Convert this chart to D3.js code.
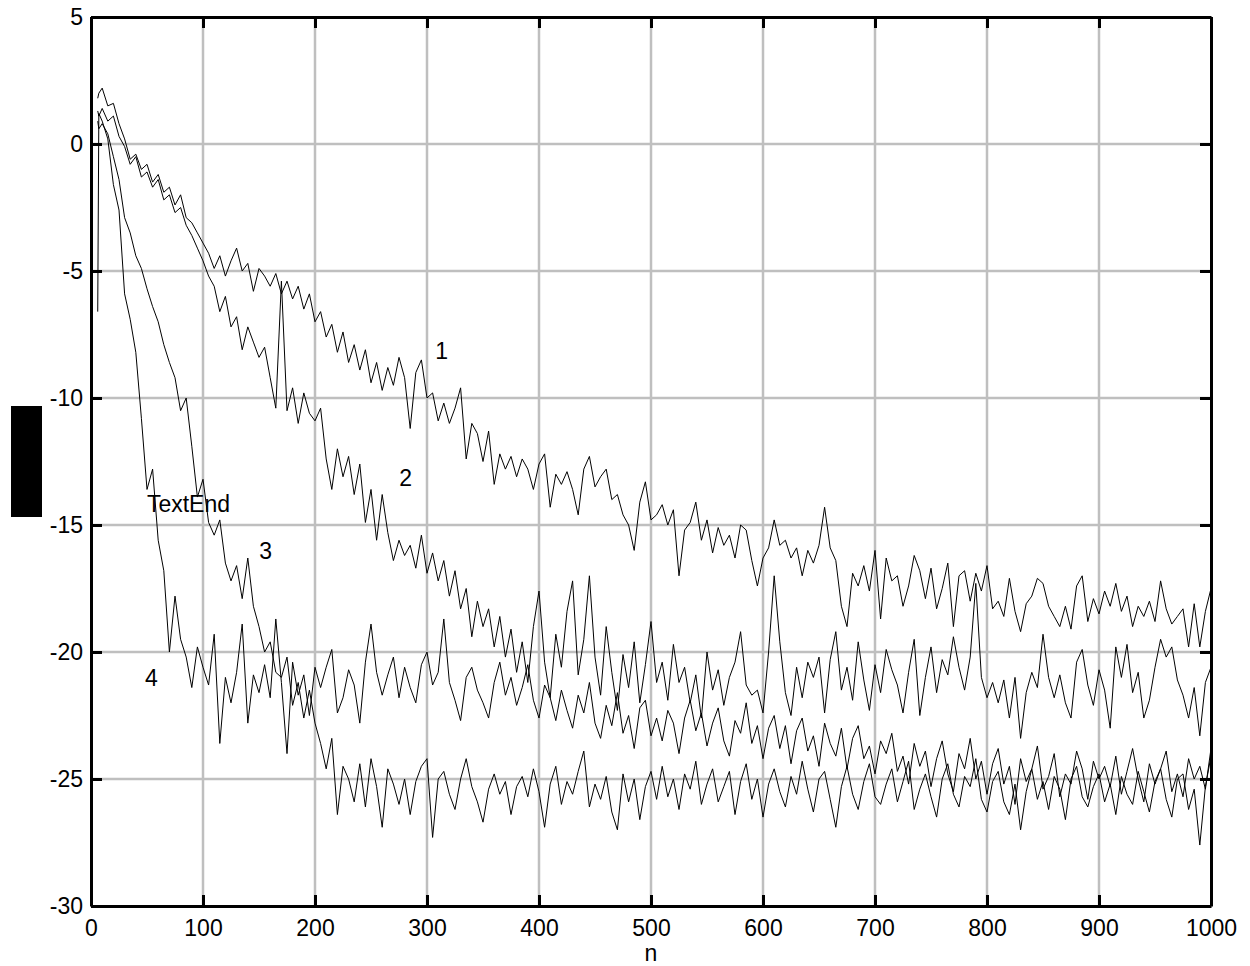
<!DOCTYPE html>
<html lang="en">
<head>
  <meta charset="UTF-8">
  <title>Learning curves</title>
  <script src="https://d3js.org/d3.v7.min.js"></script>
  <style>
    body {
      margin: 0;
      background: #fff;
      font-family: "Liberation Sans", Arial, Helvetica, sans-serif;
    }
    #chart svg { display: block; }
    .grid line { stroke: #bfbfbf; stroke-width: 2.5; }
    .axis path, .axis line { stroke: #000; stroke-width: 3; }
    .axis text { font-size: 23px; fill: #000; font-family: "Liberation Sans", Arial, Helvetica, sans-serif; }
    .curve { fill: none; stroke: #000; stroke-width: 1; }
    .label { font-size: 23px; fill: #000; }
  </style>
</head>
<body>
  <div id="chart"></div>
  <script>
    // sample positions (n); the first two points give the vertical start of curve 4
    const nSteps = [6, 7].concat(d3.range(10, 1001, 5));

    // values, one per sample position
    const series1 = [1.8, 2.0,
      2.2, 1.5, 1.6, 0.8, 0.2, -0.6, -0.4, -1.0, -0.8, -1.5, -1.2, -1.9, -1.7, -2.4, -2.0, -2.9, -3.1, -3.5, -3.9, -4.3,
      -4.9, -4.4, -5.2, -4.6, -4.1, -5.0, -4.7, -5.8, -4.9, -5.2, -5.6, -5.1, -5.9, -5.4, -6.1, -5.6, -6.5, -5.9, -7.0, -6.6,
      -7.6, -7.1, -8.2, -7.4, -8.6, -7.9, -8.9, -8.1, -9.4, -8.6, -9.7, -8.8, -9.5, -8.4, -9.2, -11.2, -9.0, -8.5, -10.0, -9.8,
      -10.9, -10.2, -11.0, -10.4, -9.6, -12.4, -11.0, -11.4, -12.5, -11.3, -13.4, -12.2, -12.8, -12.3, -13.1, -12.4, -12.8, -13.6, -12.6, -12.2,
      -14.3, -13.0, -13.4, -12.9, -13.6, -14.6, -12.8, -12.3, -13.5, -13.1, -12.8, -14.0, -13.8, -14.6, -15.0, -16.0, -14.1, -13.3, -14.8, -14.6,
      -14.2, -15.0, -14.4, -17.0, -15.2, -14.9, -14.1, -15.6, -14.8, -16.1, -15.1, -15.8, -15.4, -16.3, -15.0, -15.2, -16.4, -17.4, -16.3, -15.9,
      -14.8, -15.8, -15.6, -16.3, -15.9, -17.0, -16.0, -16.5, -15.8, -14.3, -15.9, -16.4, -18.2, -19.0, -16.9, -17.4, -16.6, -17.6, -16.0, -18.7,
      -16.3, -17.2, -17.0, -18.2, -17.4, -16.2, -16.8, -17.9, -16.7, -18.3, -17.5, -16.5, -19.0, -17.0, -16.8, -18.0, -16.9, -17.6, -16.6, -18.3,
      -18.0, -18.6, -17.1, -18.4, -19.2, -18.1, -17.8, -17.1, -17.3, -18.2, -18.6, -19.0, -18.2, -19.1, -17.4, -17.0, -18.8, -17.9, -18.5, -17.6,
      -18.2, -17.3, -18.4, -17.8, -19.0, -18.2, -18.6, -18.0, -18.8, -17.2, -18.3, -18.9, -18.6, -18.3, -19.8, -18.1, -19.8, -18.4, -17.5];

    const series2 = [1.3, 1.1,
      1.4, 0.9, 1.1, 0.3, -0.1, -0.8, -0.5, -1.3, -1.1, -1.7, -1.4, -2.2, -2.0, -2.7, -2.5, -3.2, -3.6, -4.1, -4.6, -5.2,
      -5.6, -6.6, -6.0, -7.2, -6.8, -8.1, -7.2, -7.8, -8.4, -8.0, -9.2, -10.4, -5.4, -10.5, -9.6, -11.0, -9.8, -10.6, -10.9, -10.4,
      -12.4, -13.6, -12.0, -13.1, -12.3, -13.8, -12.6, -14.9, -13.6, -15.6, -13.8, -15.3, -16.4, -15.6, -16.2, -15.8, -16.7, -15.4, -16.9, -16.1,
      -17.2, -16.4, -17.8, -16.8, -18.3, -17.5, -19.4, -18.0, -19.0, -18.3, -19.8, -18.6, -20.2, -19.1, -20.8, -19.6, -21.2, -19.0, -17.6, -20.4,
      -21.8, -19.3, -20.6, -18.4, -17.2, -20.9, -19.5, -17.0, -20.2, -21.7, -19.0, -20.8, -22.3, -20.1, -21.4, -19.6, -22.0, -20.5, -18.8, -21.2,
      -20.4, -21.9, -19.7, -21.2, -20.6, -22.0, -20.9, -22.6, -20.0, -21.5, -20.7, -22.1, -21.0, -20.4, -19.2, -21.3, -21.7, -21.5, -22.4, -20.0,
      -17.0, -19.6, -21.6, -22.5, -20.6, -21.8, -20.4, -21.0, -20.2, -22.4, -20.3, -19.2, -21.5, -20.6, -21.9, -19.6, -21.1, -22.3, -20.5, -21.6,
      -19.9, -20.7, -21.3, -22.4, -20.8, -19.5, -22.5, -21.0, -19.8, -21.6, -20.3, -20.9, -19.4, -20.6, -21.5, -20.2, -17.3, -21.0, -21.8, -21.2,
      -22.0, -21.1, -22.6, -21.0, -23.4, -21.6, -20.8, -21.4, -19.3, -21.0, -21.8, -20.9, -22.0, -22.6, -20.4, -19.9, -21.3, -22.1, -20.7, -21.5,
      -23.0, -19.8, -21.0, -19.7, -21.6, -20.8, -22.6, -21.9, -20.6, -19.5, -20.2, -19.8, -21.1, -21.7, -22.6, -21.4, -23.3, -21.2, -20.6];

    const series3 = [0.9, 0.6,
      0.8, 0.4, -0.5, -1.4, -2.9, -3.5, -4.4, -4.9, -5.7, -6.4, -7.0, -7.9, -8.6, -9.2, -10.5, -10.0, -11.9, -13.9, -13.2, -14.9,
      -15.4, -14.8, -16.5, -17.2, -16.6, -17.9, -16.3, -18.2, -19.0, -20.0, -19.6, -20.8, -21.0, -20.2, -22.1, -21.2, -22.6, -21.5, -22.8, -23.6,
      -24.6, -23.4, -26.4, -24.5, -25.0, -25.9, -24.4, -26.1, -24.2, -25.3, -26.9, -24.6, -25.2, -26.0, -25.0, -26.4, -25.1, -24.5, -24.2, -27.3,
      -25.0, -24.7, -25.6, -26.2, -25.0, -24.2, -25.3, -25.9, -26.7, -25.4, -24.8, -25.6, -25.1, -26.4, -25.3, -24.9, -25.7, -24.6, -25.5, -26.9,
      -25.2, -24.5, -26.0, -25.1, -25.6, -24.7, -23.9, -26.1, -25.2, -25.8, -24.9, -26.3, -27.0, -24.8, -25.9, -25.0, -26.6, -25.3, -24.7, -25.8,
      -24.5, -25.7, -25.0, -26.2, -24.8, -25.4, -24.3, -26.0, -25.2, -24.6, -25.9, -25.3, -24.7, -26.4, -25.1, -24.4, -25.8, -25.0, -26.5, -25.2,
      -24.6, -25.5, -26.1, -24.9, -25.6, -24.3, -25.4, -26.3, -25.0, -24.7, -25.8, -26.9, -25.3, -24.5, -25.6, -26.2, -25.1, -24.4, -25.7, -26.0,
      -25.2, -24.6, -25.9, -25.1, -24.3, -26.2, -25.4, -24.8, -25.7, -26.5, -25.0, -24.4, -25.6, -26.1, -24.9, -25.3, -24.2, -25.8, -26.3, -25.1,
      -24.7, -25.9, -26.4, -25.2, -27.0, -25.5, -24.6, -25.8, -25.1, -26.2, -24.9, -25.4, -26.6, -25.0, -24.5, -25.7, -26.1, -25.3, -24.8, -25.9,
      -25.2, -26.4, -24.9, -25.6, -26.0, -24.7, -25.5, -26.3, -25.1, -24.6, -25.8, -26.5, -25.0, -24.8, -26.2, -25.4, -27.6, -25.3, -24.1];

    const series4 = [-6.6, 1.2,
      0.9, 0.2, -1.6, -2.6, -5.9, -6.9, -8.2, -10.8, -13.6, -12.8, -15.6, -16.8, -20.0, -17.8, -19.5, -20.2, -21.4, -19.8, -20.6, -21.3,
      -19.3, -23.6, -21.0, -22.0, -20.8, -18.9, -22.8, -20.9, -21.6, -20.5, -21.8, -18.7, -21.2, -24.0, -20.4, -21.7, -20.9, -22.5, -20.6, -21.4,
      -20.6, -19.9, -22.4, -21.8, -20.7, -21.3, -22.8, -20.4, -18.9, -20.8, -21.7, -20.9, -20.2, -21.8, -20.6, -21.4, -22.0, -20.5, -20.0, -21.3,
      -20.8, -18.7, -21.2, -21.9, -22.7, -21.0, -20.6, -21.5, -22.0, -22.6, -21.2, -20.4, -21.7, -21.0, -22.1, -21.4, -20.5, -21.9, -22.6, -21.3,
      -21.8, -22.7, -21.5, -22.3, -23.0, -21.7, -22.4, -21.2, -22.8, -23.4, -22.1, -22.9, -21.6, -23.2, -22.5, -23.8, -22.2, -21.9, -23.3, -22.6,
      -23.5, -22.3, -22.8, -24.0, -22.6, -21.9, -23.1, -22.4, -23.7, -22.8, -22.2, -23.5, -24.1, -22.7, -23.2, -22.0, -23.6, -22.9, -24.2, -23.0,
      -22.5, -23.8, -22.9, -24.4, -23.1, -22.6, -23.9, -23.3, -24.5, -22.8, -23.6, -24.1, -23.0, -24.6, -23.4, -22.9, -24.2, -23.7, -24.8, -23.5,
      -24.0, -23.2, -24.7, -24.1, -25.2, -23.6, -24.5, -23.9, -25.3, -24.2, -23.5, -24.8, -25.5, -24.0, -24.6, -23.4, -25.0, -24.3, -25.6, -24.4,
      -23.8, -25.2, -24.5, -26.0, -24.2, -25.1, -24.6, -23.7, -25.4, -24.9, -24.0, -25.7, -24.8, -25.2, -23.9, -24.6, -25.8, -24.3, -25.0, -24.5,
      -25.3, -24.1, -25.6, -24.7, -23.8, -25.0, -25.9, -24.4, -25.2, -24.6, -23.9, -25.5, -24.8, -25.7, -24.2, -25.0, -24.5, -25.4, -23.8];

    const xTicks = [0, 100, 200, 300, 400, 500, 600, 700, 800, 900, 1000];
    const yTicks = [5, 0, -5, -10, -15, -20, -25, -30];

    // curve annotations: text and the (n, value) point where they sit
    const labelTexts = ['1', '2', '3', '4', 'TextEnd'];
    const labelN = [313, 281, 156, 54, 87];
    const labelV = [-8.45, -13.45, -16.35, -21.35, -14.5];

    const W = 1250, H = 966;
    const margin = { top: 17, right: 39, bottom: 60, left: 91 };
    const width = W - margin.left - margin.right;
    const height = H - margin.top - margin.bottom;

    const root = d3.select('#chart').append('svg')
      .attr('width', W)
      .attr('height', H);

    // the y-axis title is blacked out in the source picture
    root.append('rect')
      .attr('x', 11).attr('y', 406)
      .attr('width', 31).attr('height', 111)
      .attr('fill', '#000');

    const svg = root.append('g')
      .attr('transform', `translate(${margin.left},${margin.top})`);

    const x = d3.scaleLinear().domain([0, 1000]).range([0, width]);
    const y = d3.scaleLinear().domain([-30, 5]).range([height, 0]);

    // grid
    const grid = svg.append('g').attr('class', 'grid');
    grid.selectAll('line.v')
      .data(xTicks.slice(1, -1))
      .join('line')
      .attr('class', 'v')
      .attr('x1', d => x(d)).attr('x2', d => x(d))
      .attr('y1', 0).attr('y2', height);
    grid.selectAll('line.h')
      .data(yTicks.slice(1, -1))
      .join('line')
      .attr('class', 'h')
      .attr('y1', d => y(d)).attr('y2', d => y(d))
      .attr('x1', 0).attr('x2', width);

    // curves
    const line = d3.line()
      .x((d, i) => x(nSteps[i]))
      .y(d => y(d));
    [series1, series2, series3, series4].forEach(s => {
      svg.append('path')
        .attr('class', 'curve')
        .attr('d', line(s.slice(0, nSteps.length)));
    });

    // labels on the curves
    svg.selectAll('text.label')
      .data(labelTexts)
      .join('text')
      .attr('class', 'label')
      .attr('x', (d, i) => x(labelN[i]))
      .attr('y', (d, i) => y(labelV[i]))
      .attr('text-anchor', 'middle')
      .text(d => d);

    // frame with inward ticks
    const tick = 11;
    const plain = d => String(d).replace('\u2212', '-');
    svg.append('g').attr('class', 'axis')
      .attr('transform', `translate(0,${height})`)
      .call(d3.axisBottom(x).tickValues(xTicks).tickSizeInner(-tick).tickSizeOuter(0).tickPadding(14)
        .tickFormat(plain));
    svg.append('g').attr('class', 'axis')
      .call(d3.axisLeft(y).tickValues(yTicks).tickSizeInner(-tick).tickSizeOuter(0).tickPadding(8)
        .tickFormat(plain));
    svg.append('g').attr('class', 'axis')
      .call(d3.axisTop(x).tickValues(xTicks).tickSizeInner(-tick).tickSizeOuter(0).tickFormat(''));
    svg.append('g').attr('class', 'axis')
      .attr('transform', `translate(${width},0)`)
      .call(d3.axisRight(y).tickValues(yTicks).tickSizeInner(-tick).tickSizeOuter(0).tickFormat(''));

    svg.append('text')
      .attr('x', width / 2)
      .attr('y', height + 55)
      .attr('text-anchor', 'middle')
      .style('font-size', '23px')
      .text('n');
  </script>
</body>
</html>
